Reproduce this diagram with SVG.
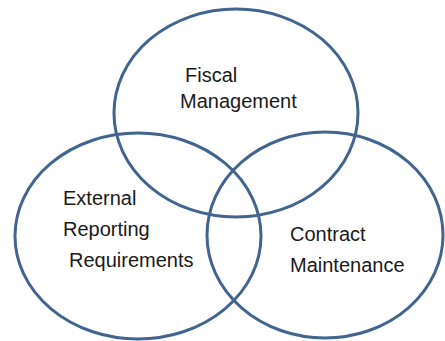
<svg xmlns="http://www.w3.org/2000/svg" width="445" height="341" viewBox="0 0 445 341">
  <style>
    .set { fill: none; stroke: #41658f; stroke-width: 3; }
    .lbl { font-family: "Liberation Sans", Arial, sans-serif; font-size: 20px; fill: #1a1a1a; }
  </style>
  <rect width="445" height="341" fill="#ffffff"/>
  <g id="fiscal-management">
    <ellipse class="set" cx="236" cy="113" rx="122" ry="104"/>
    <text class="lbl" x="185" y="82">Fiscal</text>
    <text class="lbl" x="180" y="108">Management</text>
  </g>
  <g id="external-reporting">
    <ellipse class="set" cx="138" cy="236" rx="123" ry="103"/>
    <text class="lbl" x="63" y="205">External</text>
    <text class="lbl" x="63" y="236">Reporting</text>
    <text class="lbl" x="69" y="267">Requirements</text>
  </g>
  <g id="contract-maintenance">
    <ellipse class="set" cx="325" cy="235" rx="118" ry="103"/>
    <text class="lbl" x="290" y="241">Contract</text>
    <text class="lbl" x="290" y="272">Maintenance</text>
  </g>
  <g id="connectors"/>
</svg>
